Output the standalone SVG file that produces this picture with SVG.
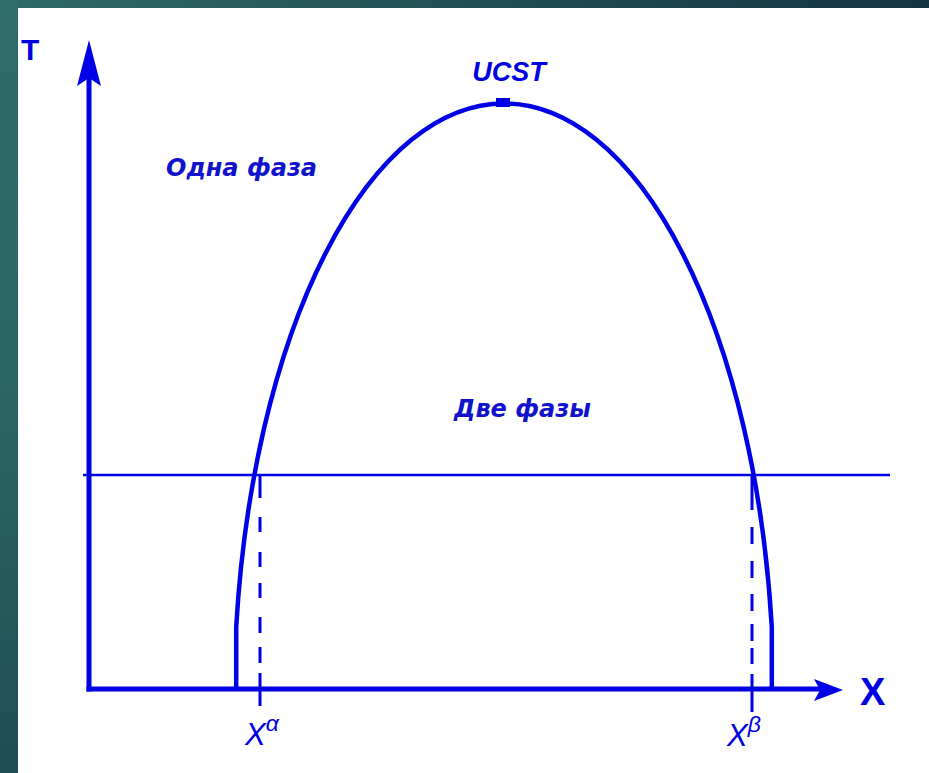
<svg xmlns="http://www.w3.org/2000/svg" width="929" height="773" viewBox="0 0 929 773">
  <defs>
    <linearGradient id="topg" x1="0" y1="0" x2="1" y2="0">
      <stop offset="0" stop-color="#2e6b67"/>
      <stop offset="1" stop-color="#163344"/>
    </linearGradient>
    <linearGradient id="leftg" x1="0" y1="0" x2="0" y2="1">
      <stop offset="0" stop-color="#2f6d69"/>
      <stop offset="0.5" stop-color="#2b6663"/>
      <stop offset="1" stop-color="#1f4e55"/>
    </linearGradient>
    <style>
      .ln{fill:none;stroke:#0000e6;stroke-linecap:butt}
      .ax{stroke-width:5}
      .cv{stroke-width:4.5}
      .hl{stroke-width:2.5}
      .ds{stroke-width:3}
      .hd{fill:#0000e6}
      .lbl{fill:#1212cc;font-family:"DejaVu Sans",Verdana,sans-serif;font-weight:bold;font-style:oblique}
      .ar{fill:#0000e0;font-family:"Liberation Sans",Arial,sans-serif}
    </style>
  </defs>
  <rect x="0" y="0" width="929" height="773" fill="#ffffff"/>
  <rect x="0" y="0" width="929" height="8" fill="url(#topg)"/>
  <rect x="0" y="0" width="18" height="773" fill="url(#leftg)"/>

  <g id="connectors">
    <line class="ln ax" x1="89" y1="70" x2="89" y2="691.5"/>
    <path class="hd" d="M89,40 L101,86 L89,78 L77,86 Z"/>
    <line class="ln ax" x1="86.5" y1="689" x2="822" y2="689"/>
    <path class="hd" d="M843,690 L814,679 L820,690 L814,701 Z"/>
    <line class="ln hl" x1="83" y1="475" x2="890" y2="475"/>
    <path class="ln ds" d="M260,476 V706" stroke-dasharray="22 19 15 20 15 16 15 19 16 14 16 10 40"/>
    <path class="ln ds" d="M752,476 V712" stroke-dasharray="34 17 17 17 17 16 17 13 17 7 16 10 40"/>
  </g>

  <g id="curve">
    <path class="ln cv" d="M236.2,689 L236.2,627 A270,600 0 0 1 771.8,627 L771.8,689"/>
    <rect x="496" y="98" width="14" height="9" fill="#0000e6"/>
  </g>

  <g id="label-T"><text class="ar" x="21" y="60" font-size="30" font-weight="bold">T</text></g>
  <g id="label-X"><text class="ar" x="860" y="705" font-size="38" font-weight="bold">X</text></g>
  <g id="label-UCST"><text class="ar" x="509" y="81" font-size="27" font-weight="bold" font-style="italic" text-anchor="middle">UCST</text></g>
  <g id="label-one"><text class="lbl" x="166" y="176" font-size="24">Одна фаза</text></g>
  <g id="label-two"><text class="lbl" x="454" y="417" font-size="24">Две фазы</text></g>
  <g id="label-xa"><text class="ar" x="245" y="745" font-size="31" font-style="italic">X<tspan font-size="23" dy="-14">α</tspan></text></g>
  <g id="label-xb"><text class="ar" x="727" y="746" font-size="31" font-style="italic">X<tspan font-size="23" dy="-14">β</tspan></text></g>
</svg>
